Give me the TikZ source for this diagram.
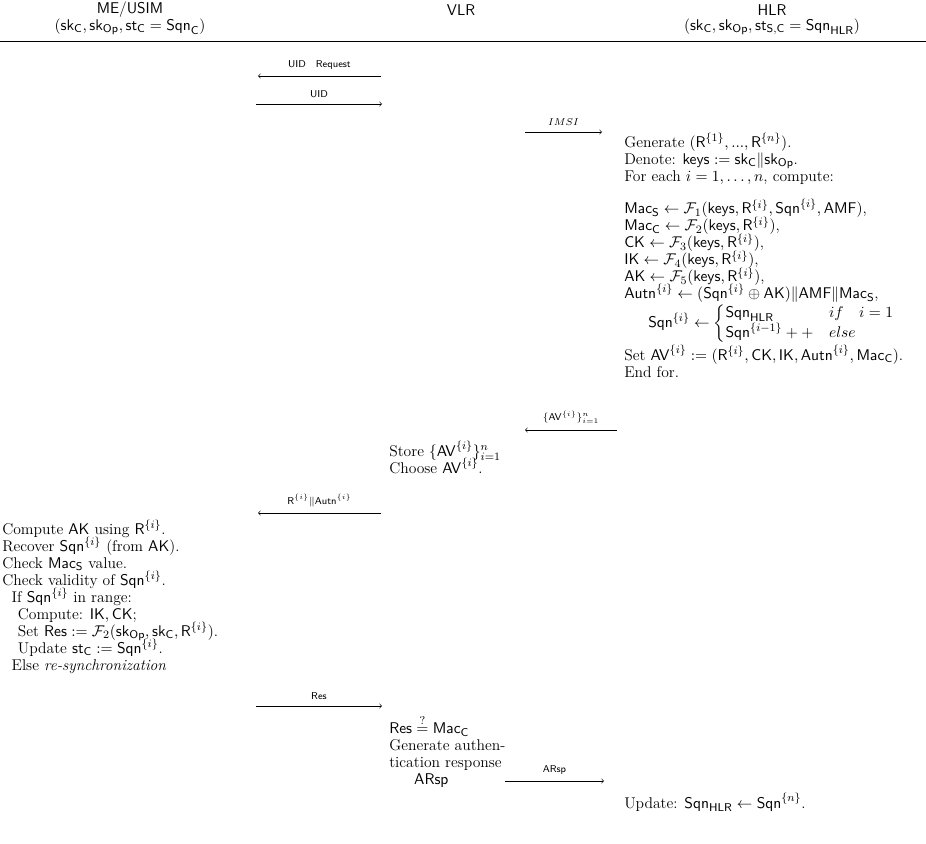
\documentclass[tikz,border=0pt]{standalone}
\usepackage{amsmath,amssymb}
\newcommand{\Sqn}{\mathsf{Sqn}}
\newcommand{\Mac}{\mathsf{Mac}}
\newcommand{\Autn}{\mathsf{Autn}}
\newcommand{\AKey}{\mathsf{AK}}
\newcommand{\CKey}{\mathsf{CK}}
\newcommand{\IKey}{\mathsf{IK}}
\newcommand{\AVec}{\mathsf{AV}}
\newcommand{\Rnd}{\mathsf{R}}
\newcommand{\Resp}{\mathsf{Res}}
\newcommand{\keysv}{\mathsf{keys}}
\newcommand{\AMFv}{\mathsf{AMF}}
\newcommand{\ARspv}{\mathsf{ARsp}}
\newcommand{\tightlines}{\lineskiplimit=-20pt\relax}
\begin{document}
\begin{tikzpicture}[x=0.706pt,y=-0.706pt,
    msg/.style={->},
    lbl/.style={font=\scriptsize\sffamily, above=1pt},
    blk/.style={anchor=north west, align=left, inner sep=0pt,
      font=\fontsize{11}{12}\selectfont\tightlines},
    head/.style={font=\fontsize{11}{12}\selectfont\sffamily, align=center, inner sep=0pt}]
  \useasboundingbox (0,0) rectangle (926,844);
  \draw
    (130,10) node[head] (me){ME/USIM}
    (130,27) node[head] (mest){$(\mathsf{sk_C},\mathsf{sk_{Op}},\mathsf{st_C}=\Sqn_\mathsf{C})$}
    (461,10) node[head] (vlr){VLR}
    (772,10) node[head] (hlr){HLR}
    (772,27) node[head] (hlrst){$(\mathsf{sk_C},\mathsf{sk_{Op}},\mathsf{st_{S,C}}=\Sqn_\mathsf{HLR})$};
  \draw[semithick] (0,41) coordinate (rl) -- (926,41) coordinate (rr);
  \coordinate (a1s) at (381,76);  \coordinate (a1e) at (258,76);
  \coordinate (a2s) at (256,104); \coordinate (a2e) at (382,104);
  \coordinate (a3s) at (525,132); \coordinate (a3e) at (602,132);
  \coordinate (a4s) at (617,430); \coordinate (a4e) at (525,430);
  \coordinate (a5s) at (381,513); \coordinate (a5e) at (258,513);
  \coordinate (a6s) at (256,706); \coordinate (a6e) at (382,706);
  \coordinate (a7s) at (505,781); \coordinate (a7e) at (604,781);
  \draw
    (624,133) node[blk] (gen){Generate $(\Rnd^{\{1\}},...,\Rnd^{\{n\}})$.\\
      Denote: $\keysv:=\mathsf{sk_C}\|\mathsf{sk_{Op}}$.\\
      For each $i=1,\ldots,n$, compute:\\[11pt]
      $\Mac_\mathsf{S}\leftarrow\mathcal{F}_1(\keysv,\Rnd^{\{i\}},\Sqn^{\{i\}},\AMFv)$,\\
      $\Mac_\mathsf{C}\leftarrow\mathcal{F}_2(\keysv,\Rnd^{\{i\}})$,\\
      $\CKey\leftarrow\mathcal{F}_3(\keysv,\Rnd^{\{i\}})$,\\
      $\IKey\leftarrow\mathcal{F}_4(\keysv,\Rnd^{\{i\}})$,\\
      $\AKey\leftarrow\mathcal{F}_5(\keysv,\Rnd^{\{i\}})$,\\
      $\Autn^{\{i\}}\leftarrow(\Sqn^{\{i\}}\oplus\AKey)\|\AMFv\|\Mac_\mathsf{S}$,}
    (648,324) node[blk, anchor=west, font=\fontsize{11}{12}\selectfont] (sqnrule){$\Sqn^{\{i\}}\leftarrow\left\{\begin{array}{@{}l@{\quad}l@{}}\Sqn_\mathsf{HLR} & if\quad i=1\\ \Sqn^{\{i-1\}}++ & else\end{array}\right.$}
    (624,345) node[blk] (setav){Set $\AVec^{\{i\}}:=(\Rnd^{\{i\}},\CKey,\IKey,\Autn^{\{i\}},\Mac_\mathsf{C})$.\\
      End for.}
    (389,441) node[blk] (store){Store $\{\AVec^{\{i\}}\}_{i=1}^n$\\
      Choose $\AVec^{\{i\}}$.}
    (2,520) node[blk] (chk){Compute $\AKey$ using $\Rnd^{\{i\}}$.\\
      Recover $\Sqn^{\{i\}}$ (from $\AKey$).\\
      Check $\Mac_\mathsf{S}$ value.\\
      Check validity of $\Sqn^{\{i\}}$.\\
      \hspace{0.6em}If $\Sqn^{\{i\}}$ in range:\\
      \hspace{1em}Compute: $\IKey,\CKey$;\\
      \hspace{1em}Set $\Resp:=\mathcal{F}_2(\mathsf{sk_{Op}},\mathsf{sk_C},\Rnd^{\{i\}})$.\\
      \hspace{1em}Update $\mathsf{st_C}:=\Sqn^{\{i\}}$.\\
      \hspace{0.6em}Else \textit{re-synchronization}}
    (389,715) node[blk] (cmp){$\Resp\stackrel{?}{=}\Mac_\mathsf{C}$\\
      Generate authen-\\
      tication response\\
      \hspace{1.6em}$\ARspv$}
    (624,793) node[blk] (upd){Update: $\Sqn_\mathsf{HLR}\leftarrow\Sqn^{\{n\}}$.};
  \begin{scope}[msg]
    \draw (a1s) to node[lbl]{UID\quad Request} (a1e);
    \draw (a2s) to node[lbl]{UID} (a2e);
    \draw (a3s) to node[lbl]{$IMSI$} (a3e);
    \draw (a4s) to node[lbl]{$\{\AVec^{\{i\}}\}_{i=1}^n$} (a4e);
    \draw (a5s) to node[lbl]{$\Rnd^{\{i\}}\|\Autn^{\{i\}}$} (a5e);
    \draw (a6s) to node[lbl]{Res} (a6e);
    \draw (a7s) to node[lbl]{ARsp} (a7e);
  \end{scope}
\end{tikzpicture}
\end{document}
